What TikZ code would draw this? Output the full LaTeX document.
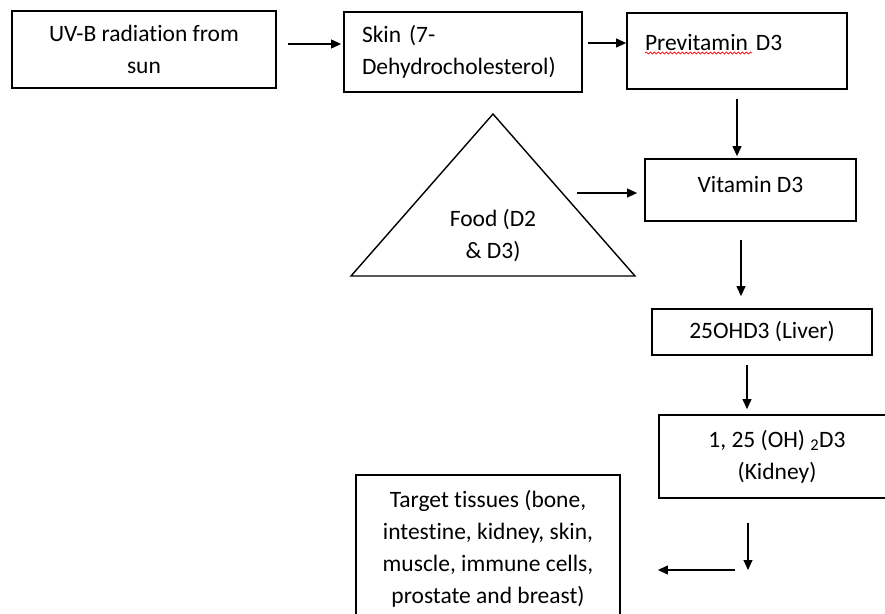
\documentclass[tikz,border=0pt]{standalone}
\usepackage{fontspec}
\setmainfont{Carlito}[Ligatures=NoCommon]
\usepackage{tikz}
\usetikzlibrary{arrows.meta, decorations.pathmorphing}

\begin{document}
\begin{tikzpicture}[x=1pt, y=-1pt,
    every node/.style={font=\fontsize{23.5}{32}\selectfont},
    box/.style={draw, rectangle, line width=1.8pt, inner sep=0pt},
    arr/.style={-{Triangle[length=10pt, width=9pt]}, line width=1.1pt}]
    \useasboundingbox (0,0) rectangle (885,613);
    % boxes
    \node[box, minimum width=264pt, minimum height=77pt, align=center] (UV) at (144,49.5) {UV-B radiation from\\sun};
    \node[box, minimum width=238pt, minimum height=80pt, text width=202pt, inner xsep=18pt, align=left] (Skin) at (463,52) {Skin (7-\\Dehydrocholesterol)};
    \node[box, minimum width=220pt, minimum height=76pt, text width=184pt, inner xsep=18pt, align=left, text depth=18pt] (Previt) at (737,51) {Previtamin D3};
    \node[box, minimum width=211pt, minimum height=62pt, text depth=12pt] (VitD) at (750.5,190) {Vitamin D3};
    \node[box, minimum width=220pt, minimum height=46pt] (Liver) at (762,332) {25OHD3 (Liver)};
    \node[box, minimum width=236pt, minimum height=83pt, align=center] (Kidney) at (777,456.5) {1, 25 (OH) \textsubscript{2}D3\\(Kidney)};
    \node[box, minimum width=264pt, minimum height=148pt, align=center] (Target) at (488,549) {Target tissues (bone,\\intestine, kidney, skin,\\muscle, immune cells,\\prostate and breast)};
    % food triangle
    \coordinate (Top) at (493,114);
    \coordinate (BL) at (351,276);
    \coordinate (BR) at (635,276);
    \draw[line width=1.4pt] (Top) -- (BL) -- (BR) -- cycle;
    \node[align=center] (Food) at (493,236) {Food (D2\\\& D3)};
    % spell check mark
    \draw[red, line width=0.7pt, decorate, decoration={snake, amplitude=1pt, segment length=4pt}] (645,53) -- (752,53);
    % arrows
    \draw[arr, shorten <=11pt, shorten >=2pt] ([yshift=5.5pt]UV.east) -- ([yshift=5.5pt]UV.east -| Skin.west);
    \draw[arr, shorten <=5pt] ([yshift=9pt]Skin.east) -- ([yshift=9pt]Skin.east -| Previt.west);
    \draw[arr, shorten <=9pt, shorten >=2pt] (Previt.south) -- (Previt.south |- VitD.north);
    \coordinate (FoodOut) at (577,193);
    \draw[arr, shorten >=7pt] (FoodOut) -- (FoodOut -| VitD.west);
    \draw[arr, shorten <=18pt, shorten >=12pt] ([xshift=-9.5pt]VitD.south) -- ([xshift=-9.5pt]VitD.south |- Liver.north);
    \draw[arr, shorten <=9pt, shorten >=5pt] ([xshift=-15pt]Liver.south) -- ([xshift=-15pt]Liver.south |- Kidney.north);
    \coordinate (Turn) at (748,570);
    \draw[arr, shorten <=24pt] (Kidney.south -| Turn) -- (Turn);
    \draw[arr, shorten >=37pt] ([xshift=-13pt]Turn) -- (Target.east |- Turn);
\end{tikzpicture}
\end{document}
